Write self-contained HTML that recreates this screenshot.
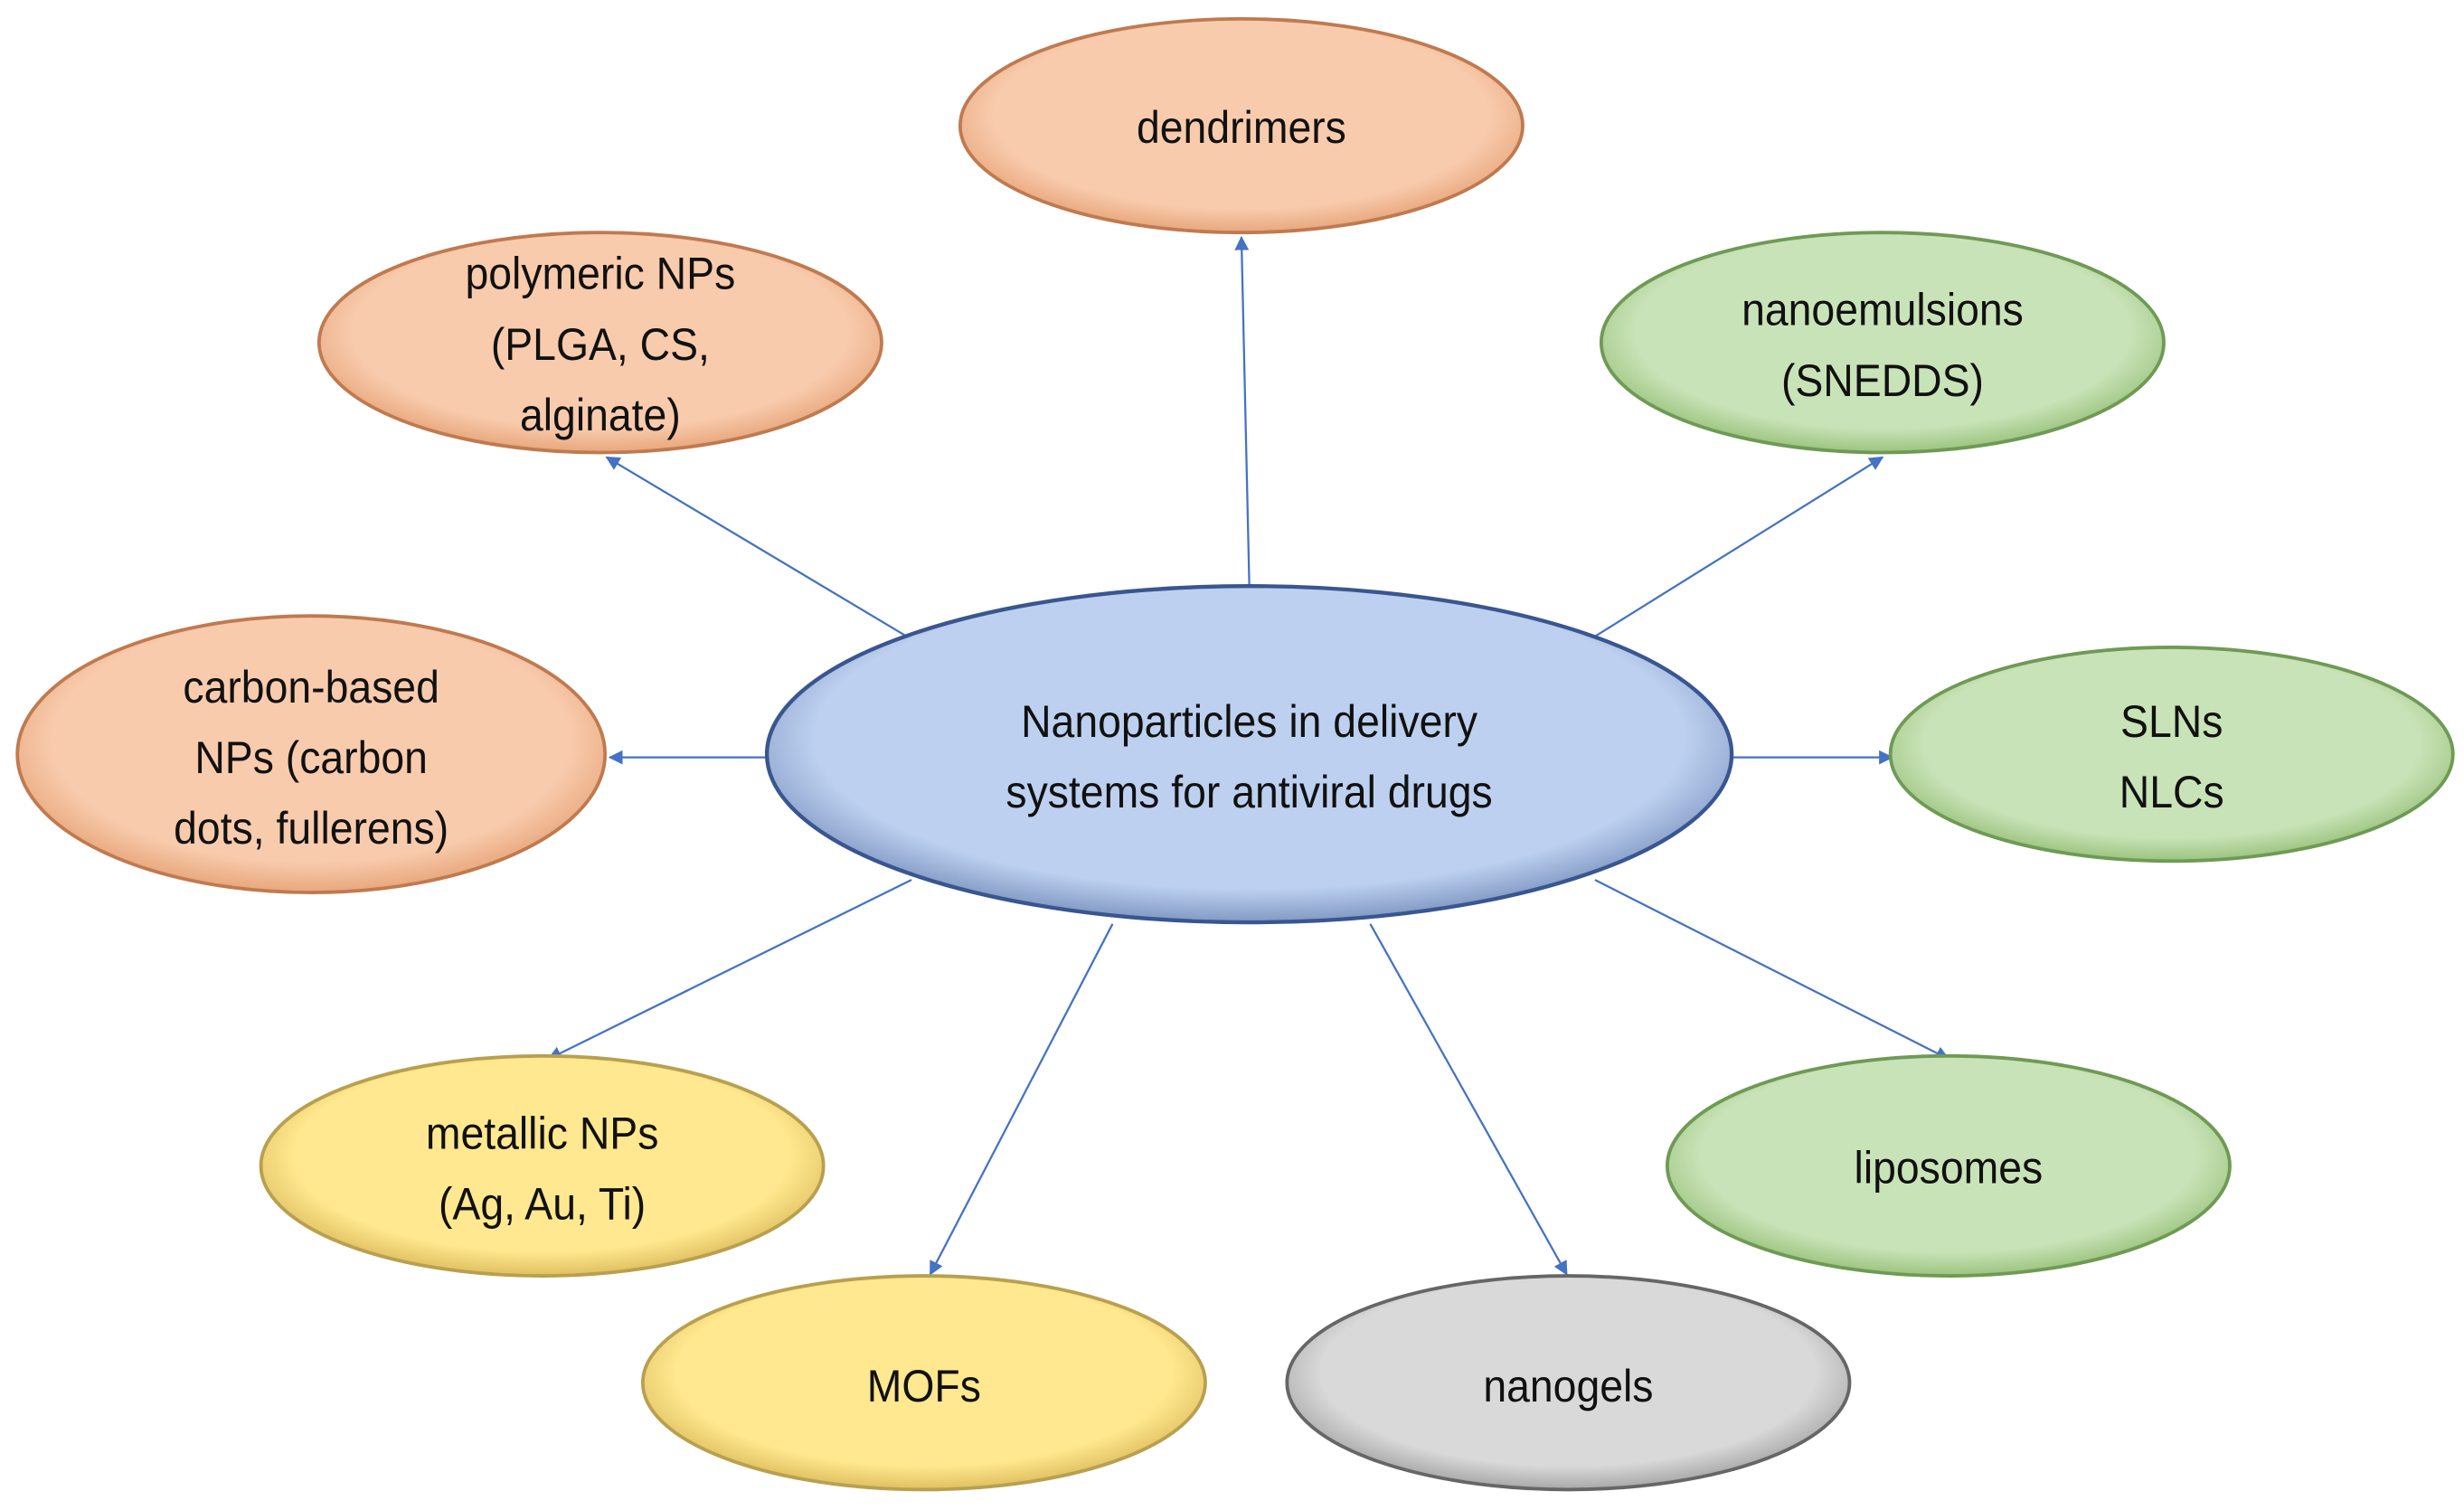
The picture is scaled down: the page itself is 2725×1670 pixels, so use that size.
<!DOCTYPE html>
<html><head><meta charset="utf-8"><style>
html,body{margin:0;padding:0;background:#fff;}
svg{display:block;}
text{font-family:"Liberation Sans",sans-serif;font-size:29px;fill:#111;text-anchor:middle;}
</style></head><body>
<svg width="2725" height="1670" viewBox="0 0 1568 961" xmlns="http://www.w3.org/2000/svg">
<defs>
<radialGradient id="go" cx="50%" cy="45%" r="55%"><stop offset="80%" stop-color="#f8cbad"/><stop offset="100%" stop-color="#e8a77c"/></radialGradient>
<radialGradient id="gg" cx="50%" cy="45%" r="55%"><stop offset="80%" stop-color="#c9e3b8"/><stop offset="100%" stop-color="#9cc47f"/></radialGradient>
<radialGradient id="gy" cx="50%" cy="45%" r="55%"><stop offset="80%" stop-color="#ffe88f"/><stop offset="100%" stop-color="#e0c060"/></radialGradient>
<radialGradient id="gr" cx="50%" cy="45%" r="55%"><stop offset="80%" stop-color="#d9d9d9"/><stop offset="100%" stop-color="#a8a8a8"/></radialGradient>
<radialGradient id="gb" cx="50%" cy="45%" r="55%"><stop offset="82%" stop-color="#bdd0ef"/><stop offset="100%" stop-color="#8199c4"/></radialGradient>
<marker id="ar" viewBox="0 0 10 10" refX="9" refY="5" markerWidth="7" markerHeight="7" orient="auto"><path d="M0,0L10,5L0,10z" fill="#4472c4"/></marker>
</defs>
<g stroke="#4472c4" stroke-width="1.3" marker-end="url(#ar)">
<line x1="795" y1="372" x2="790" y2="151"/>
<line x1="577" y1="405" x2="386" y2="291"/>
<line x1="1015" y1="405" x2="1198" y2="291"/>
<line x1="488" y1="482" x2="388" y2="482"/>
<line x1="1102" y1="482" x2="1204" y2="482"/>
<line x1="580" y1="560" x2="349" y2="674"/>
<line x1="1015" y1="560" x2="1240" y2="674"/>
<line x1="708" y1="588" x2="592" y2="811"/>
<line x1="872" y1="588" x2="997" y2="811"/>
</g>
<g stroke-width="2.2">
<ellipse cx="790" cy="80" rx="179" ry="68" fill="url(#go)" stroke="#c07a50"/>
<ellipse cx="382" cy="218" rx="179" ry="70" fill="url(#go)" stroke="#c07a50"/>
<ellipse cx="1198" cy="218" rx="179" ry="70" fill="url(#gg)" stroke="#6f9a55"/>
<ellipse cx="198" cy="480" rx="187" ry="88" fill="url(#go)" stroke="#c07a50"/>
<ellipse cx="1382" cy="480" rx="179" ry="68" fill="url(#gg)" stroke="#6f9a55"/>
<ellipse cx="345" cy="742" rx="179" ry="70" fill="url(#gy)" stroke="#b8a050"/>
<ellipse cx="1240" cy="742" rx="179" ry="70" fill="url(#gg)" stroke="#6f9a55"/>
<ellipse cx="588" cy="880" rx="179" ry="68" fill="url(#gy)" stroke="#b8a050"/>
<ellipse cx="998" cy="880" rx="179" ry="68" fill="url(#gr)" stroke="#666"/>
<ellipse cx="795" cy="480" rx="307" ry="107" fill="url(#gb)" stroke="#3a5690" stroke-width="2.5"/>
</g>
<g transform="scale(0.92,1)">
<text x="858.7" y="91">dendrimers</text>
<text x="415.2" y="184">polymeric NPs</text>
<text x="415.2" y="229">(PLGA, CS,</text>
<text x="415.2" y="274">alginate)</text>
<text x="1302.2" y="207">nanoemulsions</text>
<text x="1302.2" y="252">(SNEDDS)</text>
<text x="215.2" y="447">carbon-based</text>
<text x="215.2" y="492">NPs (carbon</text>
<text x="215.2" y="537">dots, fullerens)</text>
<text x="864.1" y="469">Nanoparticles in delivery</text>
<text x="864.1" y="514">systems for antiviral drugs</text>
<text x="1502.2" y="469">SLNs</text>
<text x="1502.2" y="514">NLCs</text>
<text x="375" y="731">metallic NPs</text>
<text x="375" y="776">(Ag, Au, Ti)</text>
<text x="1347.8" y="753">liposomes</text>
<text x="639.1" y="892">MOFs</text>
<text x="1084.8" y="892">nanogels</text>
</g>
</svg>
</body></html>
